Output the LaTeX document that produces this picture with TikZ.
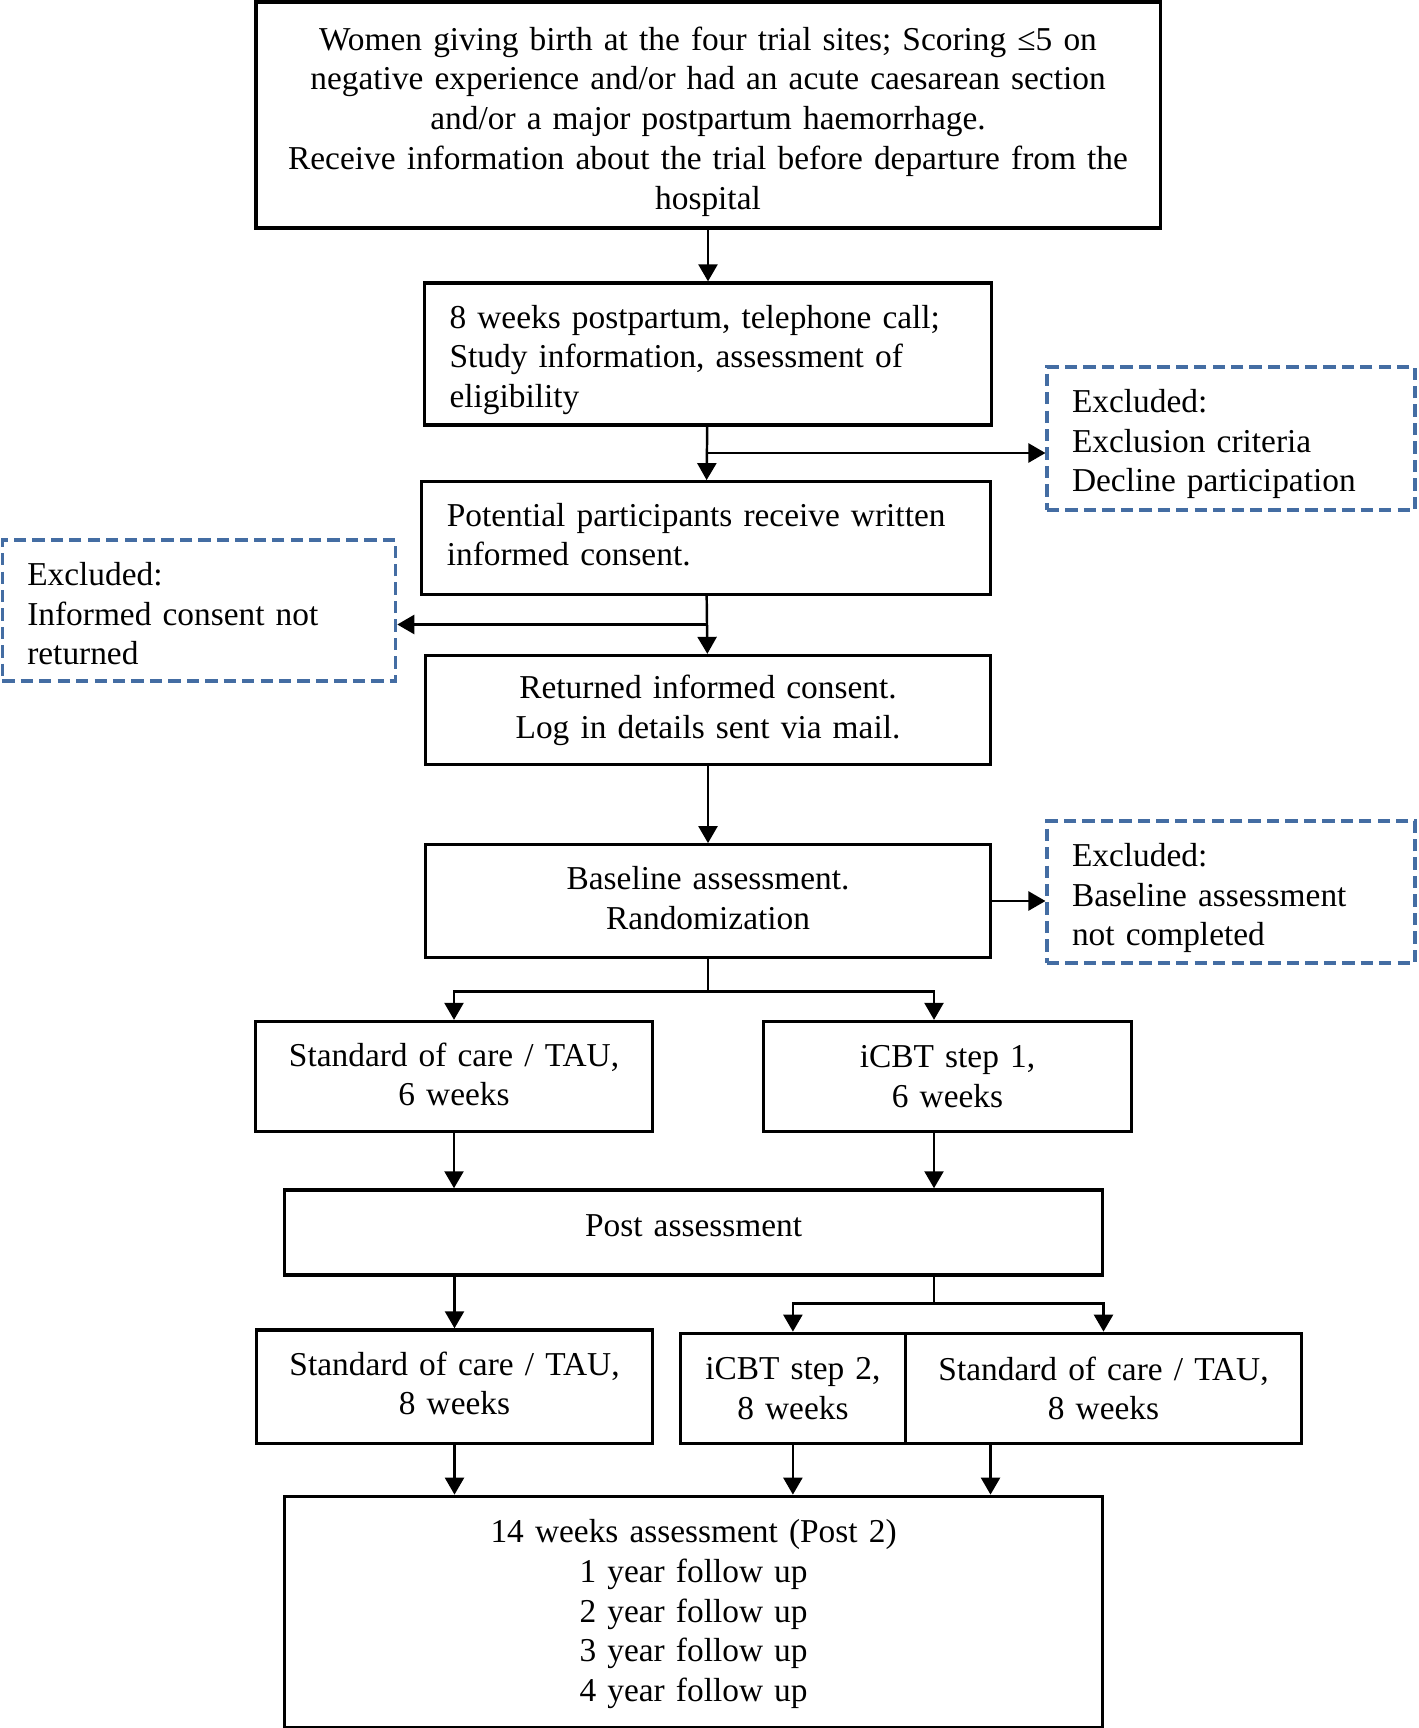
\documentclass[tikz,border=0pt]{standalone}
\usepackage{fontspec}
\setmainfont{Liberation Serif}
\usetikzlibrary{positioning}
\usetikzlibrary{arrows.meta}
\definecolor{exblue}{RGB}{68,109,163}
\newcommand{\boxfont}{\fontsize{19}{22.6}\selectfont}

\begin{document}
\begin{tikzpicture}[
    x=0.02cm, y=-0.02cm,
    box/.style={draw, line width=1.9pt, inner xsep=0.5cm, inner ysep=0pt, align=center, font=\boxfont},
    leftbox/.style={box, align=left},
    excluded/.style={draw=exblue, line width=1.8pt, dash pattern=on 7pt off 3.5pt, inner xsep=0.5cm, inner ysep=0pt, align=left, font=\boxfont},
    textup/.style={execute at end node={\endgraf\vspace*{#1}}},
    arrow/.style={draw, line width=1.4pt, -{Triangle[length=0.34cm, width=0.38cm]}}
]
\useasboundingbox (0,0) rectangle (1418,1728);

% Define node positions
\node[box, textup=-0.26cm, text width=17.09cm, minimum height=4.52cm] (women) at (708, 115) {Women giving birth at the four trial sites; Scoring ≤5 on\\ negative experience and/or had an acute caesarean section\\ and/or a major postpartum haemorrhage.\\ Receive information about the trial before departure from the\\ hospital};
\node[leftbox, textup=-0.24cm, text width=10.34cm, minimum height=2.84cm] (call) at (708, 354) {8 weeks postpartum, telephone call;\\ Study information, assessment of\\ eligibility};
\node[excluded, textup=-0.22cm, text width=6.36cm, minimum height=2.86cm] (exclA) at (1231, 438.5) {Excluded:\\ Exclusion criteria\\ Decline participation};
\node[leftbox, textup=0.13cm, text width=10.37cm, minimum height=2.25cm] (consent) at (706, 538) {Potential participants receive written\\ informed consent.};
\node[excluded, textup=-0.13cm, text width=6.87cm, minimum height=2.82cm] (exclB) at (199, 610.5) {Excluded:\\ Informed consent not\\ returned};
\node[box, text width=10.3cm, minimum height=2.18cm] (returned) at (708, 710) {Returned informed consent.\\ Log in details sent via mail.};
\node[box, textup=0.13cm, text width=10.3cm, minimum height=2.25cm] (baseline) at (708, 901) {Baseline assessment.\\ Randomization};
\node[excluded, textup=-0.24cm, text width=6.36cm, minimum height=2.84cm] (exclC) at (1231, 892) {Excluded:\\ Baseline assessment\\ not completed};
\node[box, textup=0.09cm, text width=6.93cm, minimum height=2.2cm] (tauA) at (454, 1076.5) {Standard of care / TAU,\\ 6 weeks};
\node[box, text width=6.36cm, minimum height=2.2cm] (stepA) at (947.5, 1076.5) {iCBT step 1,\\ 6 weeks};
\node[box, textup=0.26cm, text width=15.37cm, minimum height=1.7cm] (post) at (693.6, 1232.4) {Post assessment};
\node[box, textup=0.13cm, text width=6.91cm, minimum height=2.27cm] (tauB) at (454.5, 1386.7) {Standard of care / TAU,\\ 8 weeks};
\node[box, text width=3.51cm, minimum height=2.2cm] (stepB) at (792.9, 1388.3) {iCBT step 2,\\ 8 weeks};
\node[box, text width=6.91cm, minimum height=2.2cm] (tauC) at (1103.5, 1388.3) {Standard of care / TAU,\\ 8 weeks};
\node[box, textup=-0.09cm, text width=15.37cm, minimum height=4.63cm] (followup) at (693.6, 1612) {14 weeks assessment (Post 2)\\ 1 year follow up\\ 2 year follow up\\ 3 year follow up\\ 4 year follow up};

% Branch points
\coordinate (forkA) at (708, 453);
\coordinate (forkB) at (708, 624.5);
\coordinate (forkC) at (708, 991.6);
\coordinate (forkD) at (934, 1303.5);

% Draw connectors
\draw[arrow] (women) -- (call);
\draw[arrow] (call) -- (consent);
\draw[arrow] (forkA) -- (forkA -| exclA.west);
\draw[arrow] (consent) -- (returned);
\draw[arrow] (forkB) -- (forkB -| exclB.east);
\draw[arrow] (returned) -- (baseline);
\draw[arrow] (baseline.east) -- (baseline.east -| exclC.west);
\draw[line width=1.4pt] (baseline) -- (forkC);
\draw[arrow] (forkC) -| (tauA.north);
\draw[arrow] (forkC) -| ([xshift=-0.27cm]stepA.north);
\draw[arrow] (tauA) -- (tauA |- post.north);
\draw[arrow] ([xshift=-0.27cm]stepA.south) -- ([xshift=-0.27cm]stepA.south |- post.north);
\draw[arrow] (post.south -| tauB) -- (tauB.north);
\draw[line width=1.4pt] (post.south -| forkD) -- (forkD);
\draw[arrow] (forkD) -| (stepB.north);
\draw[arrow] (forkD) -| (tauC.north);
\draw[arrow] (tauB) -- (tauB |- followup.north);
\draw[arrow] (stepB) -- (stepB |- followup.north);
\draw[arrow] ([xshift=-2.26cm]tauC.south) -- ([xshift=-2.26cm]tauC.south |- followup.north);

\end{tikzpicture}
\end{document}
